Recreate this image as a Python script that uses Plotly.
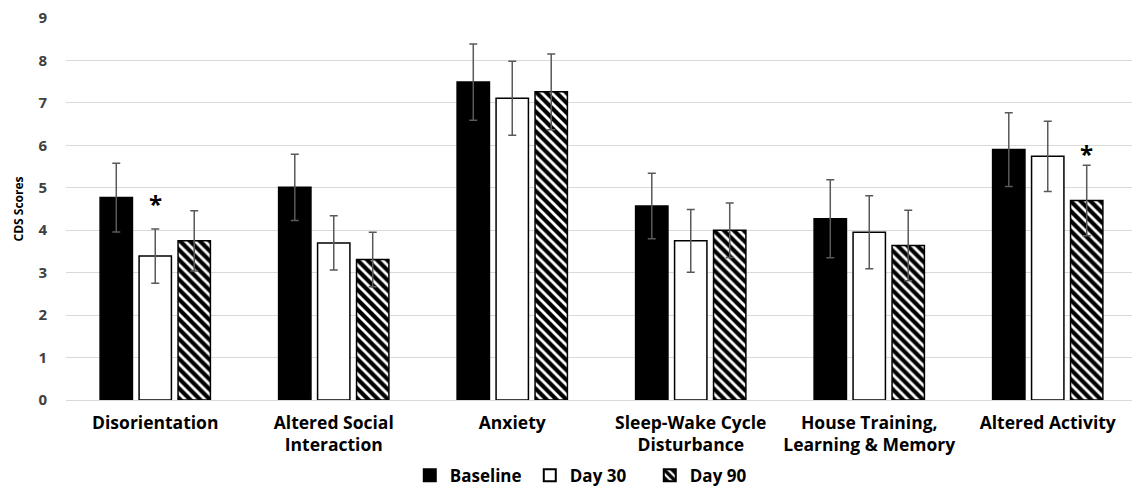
import plotly.graph_objects as go

categories = ["Disorientation", "Altered Social<br>Interaction", "Anxiety",
              "Sleep-Wake Cycle<br>Disturbance", "House Training,<br>Learning & Memory",
              "Altered Activity"]
baseline = [4.77, 5.01, 7.49, 4.57, 4.27, 5.90]
baseline_err = [0.81, 0.78, 0.90, 0.77, 0.92, 0.87]
day30 = [3.39, 3.70, 7.11, 3.75, 3.95, 5.74]
day30_err = [0.64, 0.64, 0.87, 0.74, 0.86, 0.83]
day90 = [3.75, 3.31, 7.26, 4.00, 3.64, 4.70]
day90_err = [0.71, 0.64, 0.89, 0.64, 0.83, 0.83]
series_names = ["Baseline", "Day 30", "Day 90"]
y_ticks = [0, 1, 2, 3, 4, 5, 6, 7, 8, 9]

err_style = dict(type="data", visible=True, color="#595959", thickness=1.5, width=4)
line_style = dict(color="black", width=1.5)

fig = go.Figure()
fig.add_trace(go.Bar(
    name=series_names[0], x=categories, y=baseline,
    marker=dict(color="black", line=line_style),
    error_y=dict(array=baseline_err, **err_style),
))
fig.add_trace(go.Bar(
    name=series_names[1], x=categories, y=day30,
    marker=dict(color="white", line=line_style),
    error_y=dict(array=day30_err, **err_style),
))
fig.add_trace(go.Bar(
    name=series_names[2], x=categories, y=day90,
    marker=dict(color="white", line=line_style,
                pattern=dict(shape="\\", fgcolor="black", bgcolor="white",
                             fgopacity=1, size=7, solidity=0.6)),
    error_y=dict(array=day90_err, **err_style),
))

# significance asterisks
fig.add_annotation(x=categories[0], y=day30[0] + day30_err[0], text="<b>*</b>",
                   showarrow=False, yanchor="middle", yshift=25,
                   font=dict(size=24, color="black", family="Open Sans"))
fig.add_annotation(x=categories[5], y=day90[5] + day90_err[5], text="<b>*</b>",
                   showarrow=False, yanchor="middle", yshift=12, xshift=39,
                   font=dict(size=24, color="black", family="Open Sans"))

fig.update_layout(
    width=1132, height=486,
    margin=dict(l=66, r=0, t=18, b=86, autoexpand=False),
    paper_bgcolor="white", plot_bgcolor="white",
    barmode="group", bargap=0.345, bargroupgap=0.17,
    font=dict(family="Open Sans", color="black"),
    showlegend=True,
    legend=dict(orientation="h", xref="container", yref="container",
                x=0.362, xanchor="left", y=0.021, yanchor="middle",
                entrywidth=75, entrywidthmode="pixels",
                font=dict(size=17, color="black", family="Open Sans", weight="bold"),
                itemsizing="constant", traceorder="normal"),
    xaxis=dict(type="category", range=[-0.5, 5.472], showgrid=False, showline=False,
               ticks="", ticklabelstandoff=10,
               tickfont=dict(size=17.5, color="black", family="Open Sans", weight="bold")),
    yaxis=dict(range=[0, 9], tickvals=y_ticks, showgrid=True, gridcolor="#d9d9d9",
               gridwidth=1, zeroline=True, zerolinecolor="#d9d9d9", zerolinewidth=1,
               showline=False, ticks="", ticklabelstandoff=18,
               tickfont=dict(size=15, color="#404040", family="Open Sans", weight="bold"),
               title=dict(text="CDS Scores", standoff=12,
                          font=dict(size=12, color="black", family="Open Sans",
                                    weight="bold"))),
)

fig.write_html("out.html", config={"displayModeBar": False},
               post_script="document.body.style.margin='0';document.body.style.padding='0';")
